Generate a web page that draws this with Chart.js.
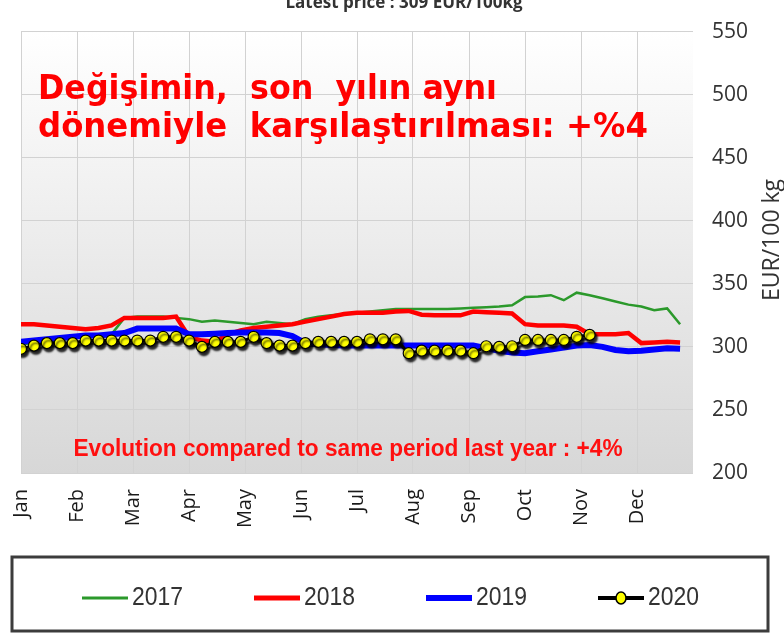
<!DOCTYPE html>
<html>
<head>
<meta charset="utf-8">
<script src="https://cdn.jsdelivr.net/npm/chart.js@4.4.0/dist/chart.umd.min.js"></script>
<style>
    html, body { margin: 0; background: #fff; }
</style>
</head>
<body>
<canvas id="price" width="784" height="633"></canvas>
<script>
// weekly prices, EUR/100kg
const months = ["Jan", "Feb", "Mar", "Apr", "May", "Jun", "Jul", "Aug", "Sep", "Oct", "Nov", "Dec"];
const years = ["2017", "2018", "2019", "2020"];
const priceTicks = [200, 250, 300, 350, 400, 450, 500, 550];

const prices2017 = [302, 303, 304, 305, 307, 308, 309, 310, 323, 324, 324, 324, 323, 322, 320, 321, 320, 319, 318, 320, 319, 318, 322, 324, 325, 326,
    327, 328, 329, 330, 330, 330, 330, 330, 330.5, 331, 331.5, 332, 333, 339.5, 340, 341, 337, 343, 341, 338.5, 336, 333.5, 332, 329, 330.5, 318];
const prices2018 = [318, 318, 317, 316, 315, 314, 315, 317, 323, 323, 323, 323, 324, 308, 305, 304, 310, 313, 315, 316, 317, 318, 320, 322, 324, 326,
    327, 327, 327, 328, 328.5, 325.5, 325, 325, 325, 328, 327.5, 327, 326.5, 318, 317, 317, 317, 316, 310, 310, 310, 311, 303, 303.5, 304, 303.5];
const prices2019 = [304, 305, 306, 307, 308, 309, 309, 310, 311, 314.5, 314.5, 314.5, 314.5, 310, 310, 310.5, 311, 311.5, 311.5, 311.5, 311, 308.5, 303, 302, 301.5, 301,
    301, 301, 301, 301, 301, 301, 301, 301, 301, 301, 299, 297, 295.5, 295, 296.5, 298, 299.5, 301, 301.5, 300, 297.5, 296.5, 297, 298, 299, 298.5];
const prices2020 = [298.5, 301, 303, 303, 303, 305, 305, 305, 305, 305, 305, 308, 308, 305, 300, 304, 304, 304, 308, 303, 301, 301, 303,
    304, 304, 304, 304, 306, 306, 306, 295, 297, 297, 297, 297, 295, 300.5, 300, 300.5, 305.5, 305.5, 305.5, 305.5, 308, 309.5];

const titleText = "Latest price : 309 EUR/100kg";
const noteTr = ["Değişimin,  son  yılın aynı", "dönemiyle  karşılaştırılması: +%4"];
const noteEn = "Evolution compared to same period last year : +4%";

const weeksPerYear = 52;

function weekly(values) {
    return values.map((v, i) => ({ x: i, y: v }));
}

// plot background gradient
const plotBackground = {
    id: "plotBackground",
    beforeDraw(chart) {
        const { ctx, chartArea: a } = chart;
        let g = ctx.createLinearGradient(0, a.top, 0, a.bottom);
        g.addColorStop(0, "#ffffff");
        g.addColorStop(1, "#d7d7d7");
        ctx.save();
        ctx.fillStyle = g;
        ctx.fillRect(a.left, a.top, a.right - a.left, a.bottom - a.top);
        ctx.restore();
    }
};

// dark drop shadow under the 2020 markers
const markerShadow = {
    id: "markerShadow",
    beforeDatasetDraw(chart, args) {
        if (args.index !== 3) return;
        const ctx = chart.ctx;
        ctx.save();
        ctx.shadowColor = "rgba(0,0,0,0.85)";
        ctx.shadowOffsetX = 2;
        ctx.shadowOffsetY = 3;
        ctx.shadowBlur = 2;
    },
    afterDatasetDraw(chart, args) {
        if (args.index !== 3) return;
        chart.ctx.restore();
    }
};

// texts, axis title and the boxed legend
const overlay = {
    id: "overlay",
    afterDraw(chart) {
        const { ctx, chartArea: a } = chart;
        ctx.save();

        ctx.fillStyle = "#333";
        ctx.font = "bold 17px 'Open Sans'";
        ctx.textAlign = "center";
        ctx.textBaseline = "alphabetic";
        ctx.fillText(titleText, 404, 8, 282);

        ctx.fillStyle = "#ff0000";
        ctx.textAlign = "left";
        ctx.font = "bold 33px 'DejaVu Sans'";
        ctx.fillText(noteTr[0], 38, 99, 459);
        ctx.fillText(noteTr[1], 38, 137, 610);

        ctx.fillStyle = "#ff1010";
        ctx.textAlign = "center";
        ctx.font = "bold 24px 'Liberation Sans'";
        ctx.fillText(noteEn, 348, 456, 549);

        // y axis title, reads bottom to top
        ctx.save();
        ctx.translate(772, 240);
        ctx.rotate(-Math.PI / 2);
        ctx.fillStyle = "#333";
        ctx.font = "23px 'Open Sans'";
        ctx.textBaseline = "middle";
        ctx.fillText("EUR/100 kg", 0, 0, 134);
        ctx.restore();

        // legend box
        ctx.strokeStyle = "#3c3c3c";
        ctx.lineWidth = 3;
        ctx.strokeRect(12, 557, 756, 74);

        const ly = 598;
        ctx.font = "26px 'Liberation Sans'";
        ctx.textAlign = "left";
        ctx.textBaseline = "middle";
        chart.data.datasets.forEach((ds, i) => {
            const x0 = 82 + i * 172;
            ctx.strokeStyle = ds.borderColor;
            ctx.lineWidth = ds.legendWidth;
            ctx.beginPath();
            ctx.moveTo(x0, ly);
            ctx.lineTo(x0 + 46, ly);
            ctx.stroke();
            if (ds.pointRadius > 0) {
                ctx.fillStyle = ds.pointBackgroundColor;
                ctx.lineWidth = 1.5;
                ctx.strokeStyle = "#000";
                ctx.beginPath();
                ctx.ellipse(x0 + 23, ly, 5, 6, 0, 0, Math.PI * 2);
                ctx.fill();
                ctx.stroke();
            }
            ctx.fillStyle = "#333";
            ctx.fillText(ds.label, x0 + 50, ly, 51);
        });

        ctx.restore();
    }
};

const ctx = document.getElementById("price").getContext("2d");
const priceChart = new Chart(ctx, {
    type: "line",
    data: {
        datasets: [{
            label: years[0],
            data: weekly(prices2017),
            borderColor: "#2b992b",
            borderWidth: 2.5,
            legendWidth: 3,
            pointRadius: 0,
            order: 4
        }, {
            label: years[1],
            data: weekly(prices2018),
            borderColor: "#ff0000",
            borderWidth: 4.5,
            legendWidth: 5,
            pointRadius: 0,
            order: 3
        }, {
            label: years[2],
            data: weekly(prices2019),
            borderColor: "#0000ff",
            borderWidth: 6,
            legendWidth: 6,
            pointRadius: 0,
            order: 2
        }, {
            label: years[3],
            data: weekly(prices2020),
            borderColor: "#000000",
            borderWidth: 3,
            legendWidth: 4,
            pointRadius: 5.5,
            pointBackgroundColor: "#ffff00",
            pointBorderColor: "#000000",
            pointBorderWidth: 1.2,
            order: 1
        }]
    },
    options: {
        responsive: false,
        animation: false,
        layout: {
            padding: { left: 21, top: 20, right: 0, bottom: 76 }
        },
        plugins: {
            legend: { display: false },
            tooltip: { enabled: false }
        },
        scales: {
            x: {
                type: "linear",
                min: 0,
                max: weeksPerYear,
                afterBuildTicks: (s) => {
                    s.ticks = months.map((m, i) => ({ value: i * weeksPerYear / 12 }));
                },
                afterFit: (s) => { s.height = 84; },
                ticks: {
                    autoSkip: false,
                    maxRotation: 90,
                    minRotation: 90,
                    padding: 16,
                    color: "#1a1a1a",
                    font: { family: "'Open Sans'", size: 20 },
                    callback: (v, i) => months[i]
                },
                grid: { color: "#d2d2d2", drawTicks: false },
                border: { display: false }
            },
            y: {
                position: "right",
                min: priceTicks[0],
                max: priceTicks[priceTicks.length - 1],
                afterFit: (s) => { s.width = 91; },
                ticks: {
                    stepSize: 50,
                    padding: 19,
                    color: "#333",
                    font: { family: "'Open Sans'", size: 21 }
                },
                grid: { color: "#d2d2d2", drawTicks: false },
                border: { display: false }
            }
        }
    },
    plugins: [plotBackground, markerShadow, overlay]
});
</script>
</body>
</html>
